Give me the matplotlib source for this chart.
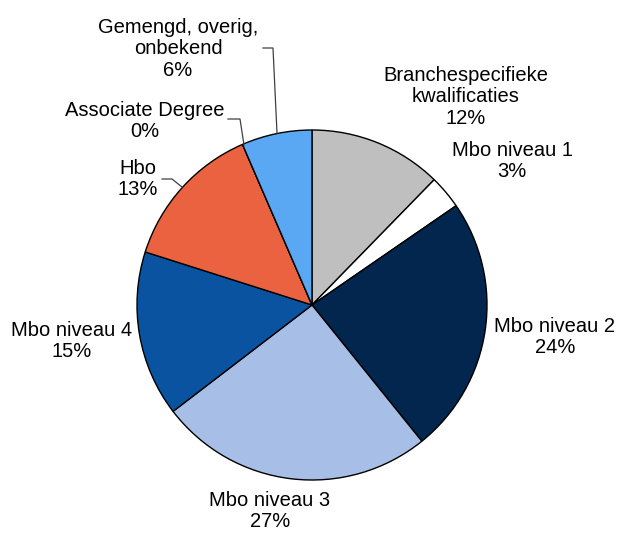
import matplotlib
matplotlib.use("Agg")
import matplotlib.pyplot as plt

labels = ["Branchespecifieke\nkwalificaties", "Mbo niveau 1", "Mbo niveau 2", "Mbo niveau 3",
          "Mbo niveau 4", "Hbo", "Associate Degree", "Gemengd, overig,\nonbekend"]
values = [12.3, 3.1, 23.8, 25.4, 15.3, 13.6, 0, 6.5]
pct_text = ["12%", "3%", "24%", "27%", "15%", "13%", "0%", "6%"]
colors = ["#BFBFBF", "#FFFFFF", "#03264F", "#A7BFE6", "#0A53A1", "#EA6240", "#5AA7F4", "#5AA7F4"]

H = 534
fig = plt.figure(figsize=(6.17, 5.34), dpi=100)
ax = fig.add_axes([0, 0, 1, 1])

cx, cy, r = 312, H - 305, 175
ax.pie(values, colors=colors, startangle=90, counterclock=False, center=(cx, cy), radius=r,
       wedgeprops=dict(edgecolor="black", linewidth=1.0), frame=True)
ax.set_xlim(0, 617)
ax.set_ylim(0, H)
ax.set_aspect("equal")
ax.axis("off")

font = dict(family=["Liberation Sans", "DejaVu Sans"], fontsize=14.5, ha="center", va="center",
            linespacing=1.15)
# label positions (pixel coords, y from top)
pos = [(466, 97), (512, 161), (555, 337), (270, 511), (72, 341), (138, 179), (145, 121), (178, 49)]
for lab, p, (x, y) in zip(labels, pct_text, pos):
    ax.text(x, H - y, lab + "\n" + p, **font)

lc = "#404040"
ax.plot([263, 273, 277], [H - 48, H - 48, H - 133], color=lc, lw=0.9)
ax.plot([228, 240, 244], [H - 119, H - 119, H - 145], color=lc, lw=0.9)
ax.plot([162, 172, 182], [H - 179, H - 179, H - 187], color=lc, lw=0.9)

fig.savefig("out.png", dpi=100)
